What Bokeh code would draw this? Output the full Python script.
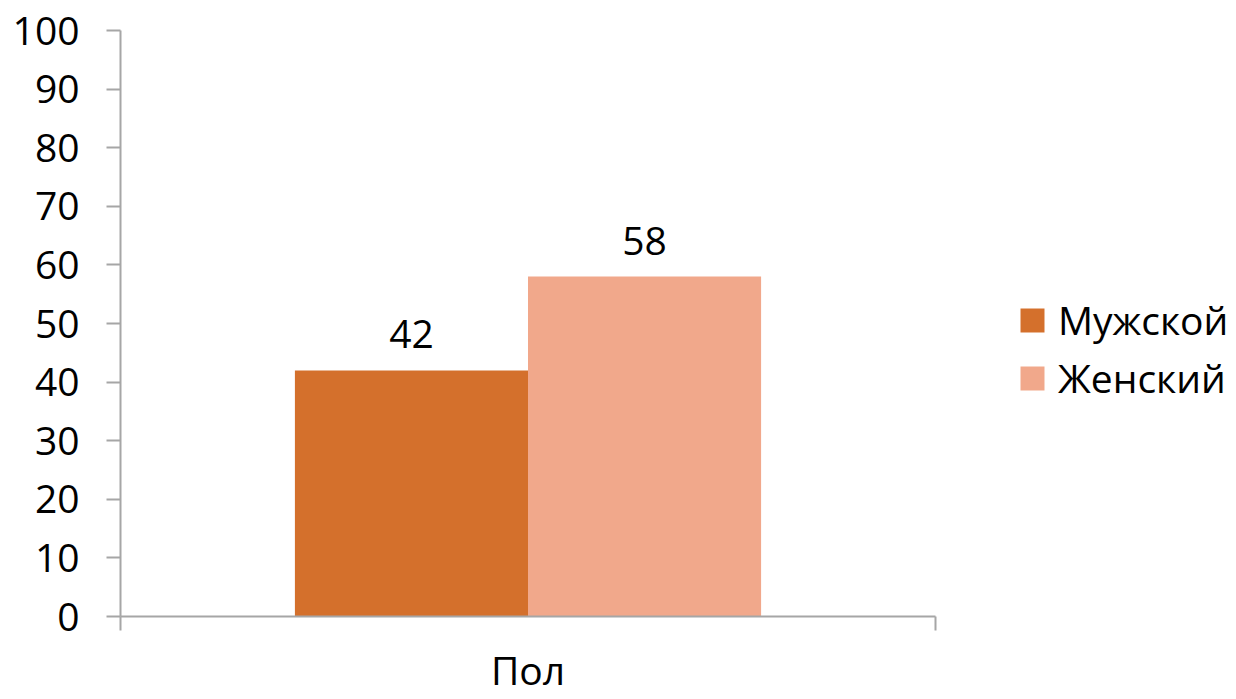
from bokeh.plotting import figure
from bokeh.models import Range1d, FixedTicker, ColumnDataSource, Legend, LegendItem
from bokeh.embed import file_html
from bokeh.resources import INLINE
from bokeh.core.properties import value

categories = ["Пол"]
series = ["Мужской", "Женский"]
values = [42, 58]
colors = ["#D4702C", "#F1A88B"]
y_ticks = list(range(0, 101, 10))

FONT = "Open Sans"
FS = "39px"
AXIS_COLOR = "#A6A6A6"

W, H = 1236, 699
LEFT, TOP, BOTTOM = 120, 30, 83
PX_PER_UNIT = 815.0  # width of the category block in pixels

p = figure(width=W, height=H, output_backend="svg", toolbar_location=None,
           x_range=Range1d(0, (W - LEFT) / PX_PER_UNIT), y_range=Range1d(0, 100),
           min_border_left=LEFT, min_border_right=0, min_border_top=TOP,
           min_border_bottom=BOTTOM)
p.outline_line_color = None
p.xgrid.visible = False
p.ygrid.visible = False

cat_center = 0.5
bar_w = 0.286
offsets = [-bar_w / 2, bar_w / 2]

items = []
for i, (name, v, c) in enumerate(zip(series, values, colors)):
    src = ColumnDataSource(dict(x=[cat_center + offsets[i]], top=[v], label=[str(v)]))
    r = p.vbar(x="x", top="top", bottom=0, width=bar_w, source=src,
               fill_color=c, line_color=None)
    p.text(x="x", y="top", text="label", source=src, text_align="center",
           text_baseline="alphabetic", y_offset=-36, text_font=value(FONT),
           text_font_size=FS, text_color="black")
    items.append(LegendItem(label=name, renderers=[r]))

# y axis
p.yaxis.ticker = FixedTicker(ticks=y_ticks)
p.yaxis.minor_tick_line_color = None
p.yaxis.major_tick_in = 0
p.yaxis.major_tick_out = 14
p.yaxis.axis_line_color = AXIS_COLOR
p.yaxis.major_tick_line_color = AXIS_COLOR
p.yaxis.axis_line_width = 2
p.yaxis.major_tick_line_width = 2
p.yaxis.major_label_text_font = FONT
p.yaxis.major_label_text_font_size = FS
p.yaxis.major_label_text_color = "black"
p.yaxis.major_label_standoff = 27

# x axis: one category block from 0 to 1
p.xaxis.bounds = (0, 1)
p.xaxis.ticker = FixedTicker(ticks=[cat_center], minor_ticks=[0, 1])
p.xaxis.major_label_overrides = {cat_center: categories[0]}
p.xaxis.major_tick_in = 0
p.xaxis.major_tick_out = 0
p.xaxis.major_tick_line_color = None
p.xaxis.minor_tick_in = 0
p.xaxis.minor_tick_out = 14
p.xaxis.minor_tick_line_color = AXIS_COLOR
p.xaxis.minor_tick_line_width = 2
p.xaxis.axis_line_color = AXIS_COLOR
p.xaxis.axis_line_width = 2
p.xaxis.major_label_text_font = FONT
p.xaxis.major_label_text_font_size = FS
p.xaxis.major_label_text_color = "black"
p.xaxis.major_label_standoff = 12

legend = Legend(items=items, location=(897, 212), orientation="vertical",
                glyph_width=30, glyph_height=30, label_standoff=11, spacing=5,
                padding=0, margin=0, border_line_color=None, background_fill_alpha=0,
                label_text_font=FONT, label_text_font_size=FS, label_text_color="black")
p.add_layout(legend, "center")

open("out.html", "w").write(file_html(p, INLINE))
